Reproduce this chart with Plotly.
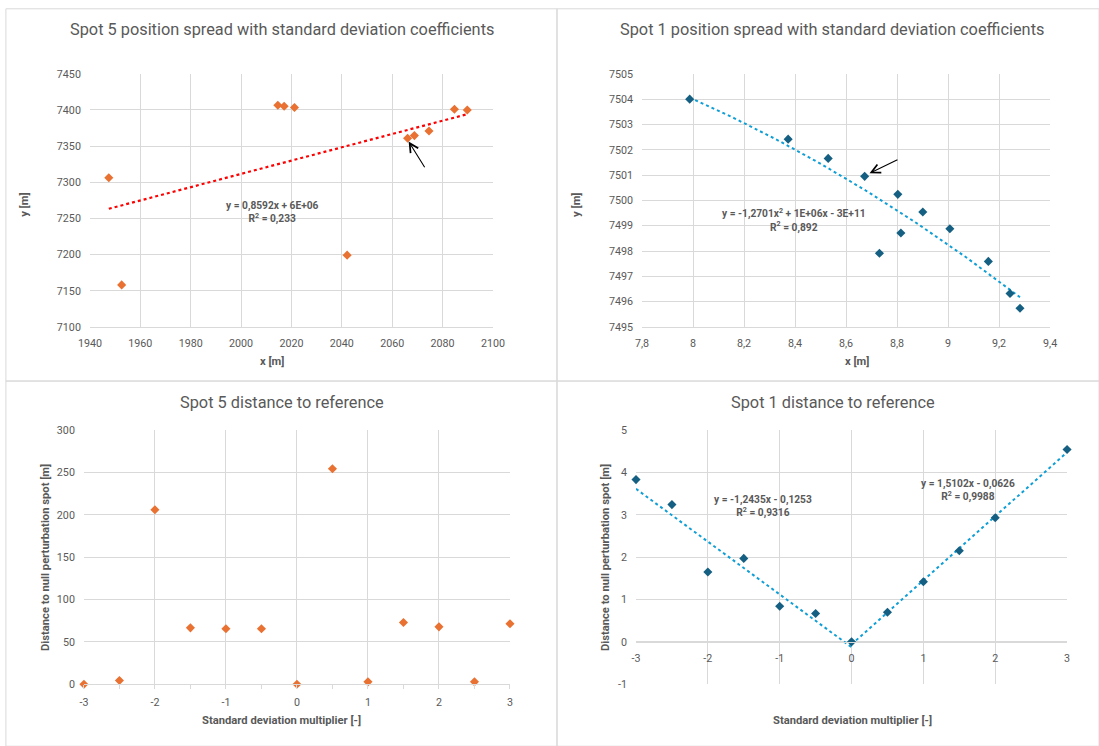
import numpy as np
import plotly.graph_objects as go

W, H = 1099, 746

# ---------------- data ----------------
spot5_x = [1947.5, 1952.6, 2014.6, 2017.1, 2021.2, 2042.1, 2066.1, 2068.8, 2074.6, 2084.7, 2089.8]
spot5_y = [7306.4, 7158.2, 7406.6, 7405.2, 7403.4, 7199.3, 7360.9, 7364.6, 7371.0, 7401.1, 7400.1]

spot1_x = [7.987, 8.373, 8.530, 8.673, 8.731, 8.803, 8.815, 8.901, 9.007, 9.158, 9.243, 9.282]
spot1_y = [7504.0, 7502.42, 7501.66, 7500.95, 7497.91, 7500.24, 7498.71, 7499.54, 7498.88, 7497.59, 7496.32, 7495.74]

std_mult_5 = [-3, -2.5, -2, -1.5, -1, -0.5, 0, 0.5, 1, 1.5, 2, 2.5, 3]
dist_5 = [0, 4.3, 205.9, 66.5, 65.4, 65.4, 0, 254.3, 2.8, 72.8, 67.7, 2.8, 71.3]

std_mult_1 = [-3, -2.5, -2, -1.5, -1, -0.5, 0, 0.5, 1, 1.5, 2, 3]
dist_1 = [3.83, 3.24, 1.65, 1.97, 0.84, 0.67, 0.0, 0.70, 1.42, 2.15, 2.93, 4.54]

titles = ["Spot 5 position spread with standard deviation coefficients",
          "Spot 1 position spread with standard deviation coefficients",
          "Spot 5 distance to reference",
          "Spot 1 distance to reference"]

eq_tl = "y = 0,8592x + 6E+06<br>R<sup>2</sup> = 0,233"
eq_tr = "y = -1,2701x<sup>2</sup> + 1E+06x - 3E+11<br>R<sup>2</sup> = 0,892"
eq_br_left = "y = -1,2435x - 0,1253<br>R<sup>2</sup> = 0,9316"
eq_br_right = "y = 1,5102x - 0,0626<br>R<sup>2</sup> = 0,9988"

tr_xticks = [7.8, 8.0, 8.2, 8.4, 8.6, 8.8, 9.0, 9.2, 9.4]
tr_xlabels = ["7,8", "8", "8,2", "8,4", "8,6", "8,8", "9", "9,2", "9,4"]
mult_ticks = [-3, -2, -1, 0, 1, 2, 3]
mult_labels = ["-3", "-2", "-1", "0", "1", "2", "3"]
br_yticks = [-1, 0, 1, 2, 3, 4, 5]
br_ylabels = ["-1", "0", "1", "2", "3", "4", "5"]

ORANGE = "#E97132"
BLUE = "#156082"
LBLUE = "#0F9ED5"
RED = "#FF0000"
GRID = "#D9D9D9"
TXT = "#595959"
FONT = "Roboto"

# the photographed page comes back slightly shrunk and shifted; compensate
OX, SX = 12.1, 0.978
OY, SY = 6.2, 0.982
FS = 1 / ((SX + SY) / 2)


def px(x):
    return ((x - OX) / SX) / W


def py(y):
    return 1 - ((y - OY) / SY) / H


fig = go.Figure()

# ---------- trend lines (least squares on the read data) ----------
c5 = np.polyfit(spot5_x, spot5_y, 1)
t5x = np.linspace(min(spot5_x), max(spot5_x), 60)
fig.add_trace(go.Scatter(x=t5x, y=np.polyval(c5, t5x), mode="lines",
                         line=dict(color=RED, width=2.2, dash="dot"),
                         xaxis="x", yaxis="y", hoverinfo="skip", cliponaxis=False))

c1 = np.polyfit(spot1_x, spot1_y, 2)
t1x = np.linspace(min(spot1_x), max(spot1_x), 60)
fig.add_trace(go.Scatter(x=t1x, y=np.polyval(c1, t1x), mode="lines",
                         line=dict(color=LBLUE, width=2, dash="dot"),
                         xaxis="x2", yaxis="y2", hoverinfo="skip", cliponaxis=False))

left_x = [m for m in std_mult_1 if m <= 0]
left_y = [d for m, d in zip(std_mult_1, dist_1) if m <= 0]
right_x = [m for m in std_mult_1 if m >= 0]
right_y = [d for m, d in zip(std_mult_1, dist_1) if m >= 0]
cl = np.polyfit(left_x, left_y, 1)
cr = np.polyfit(right_x, right_y, 1)
tlx = np.linspace(min(left_x), max(left_x), 40)
trx = np.linspace(min(right_x), max(right_x), 40)
fig.add_trace(go.Scatter(x=tlx, y=np.polyval(cl, tlx), mode="lines",
                         line=dict(color=LBLUE, width=2, dash="dot"),
                         xaxis="x4", yaxis="y4", hoverinfo="skip", cliponaxis=False))
fig.add_trace(go.Scatter(x=trx, y=np.polyval(cr, trx), mode="lines",
                         line=dict(color=LBLUE, width=2, dash="dot"),
                         xaxis="x4", yaxis="y4", hoverinfo="skip", cliponaxis=False))

# ---------- markers ----------
mk = dict(symbol="diamond", size=7)
fig.add_trace(go.Scatter(x=spot5_x, y=spot5_y, mode="markers",
                         marker=dict(color=ORANGE, **mk), xaxis="x", yaxis="y", cliponaxis=False))
fig.add_trace(go.Scatter(x=spot1_x, y=spot1_y, mode="markers",
                         marker=dict(color=BLUE, **mk), xaxis="x2", yaxis="y2", cliponaxis=False))
fig.add_trace(go.Scatter(x=std_mult_5, y=dist_5, mode="markers",
                         marker=dict(color=ORANGE, **mk), xaxis="x3", yaxis="y3", cliponaxis=False))
fig.add_trace(go.Scatter(x=std_mult_1, y=dist_1, mode="markers",
                         marker=dict(color=BLUE, **mk), xaxis="x4", yaxis="y4", cliponaxis=False))

tickfont = dict(family=FONT, size=10.5 * FS, color=TXT)
common = dict(showgrid=True, gridcolor=GRID, gridwidth=1, zeroline=False,
              tickfont=tickfont, fixedrange=True)

# plot-area domains from the reference (pixels)
dom = {
    "tl": ([90, 493], [74, 327]),
    "tr": ([642, 1050], [74, 327]),
    "bl": ([84, 510], [430, 684]),
    "br": ([636, 1067], [430, 684]),
}


def xd(k):
    a, b = dom[k][0]
    return [px(a), px(b)]


def yd(k):
    a, b = dom[k][1]
    return [py(b), py(a)]


fig.update_layout(
    xaxis=dict(domain=xd("tl"), anchor="y", range=[1940, 2100], dtick=20, tick0=1940,
               ticklabelstandoff=6, showline=True, linecolor=GRID, ticks="", **common),
    yaxis=dict(domain=yd("tl"), anchor="x", range=[7100, 7450], dtick=50, tick0=7100,
               ticklabelstandoff=8, showline=False, ticks="", **common),
    xaxis2=dict(domain=xd("tr"), anchor="y2", range=[7.8, 9.4], tickvals=tr_xticks,
                ticktext=tr_xlabels, ticklabelstandoff=6, showline=True, linecolor=GRID,
                ticks="", **common),
    yaxis2=dict(domain=yd("tr"), anchor="x2", range=[7495, 7505], dtick=1, tick0=7495,
                ticklabelstandoff=8, showline=False, ticks="", **common),
    xaxis3=dict(domain=xd("bl"), anchor="y3", range=[-3, 3], tickvals=mult_ticks,
                ticktext=mult_labels, ticklabelstandoff=4, showline=True, linecolor=GRID,
                ticks="outside", ticklen=4, tickcolor=GRID,
                minor=dict(ticks="outside", ticklen=4, tickcolor=GRID, dtick=0.5, showgrid=False),
                **common),
    yaxis3=dict(domain=yd("bl"), anchor="x3", range=[0, 300], dtick=50, tick0=0,
                ticklabelstandoff=8, showline=False, ticks="", **common),
    xaxis4=dict(domain=xd("br"), anchor="free", position=py(642), range=[-3, 3],
                tickvals=mult_ticks, ticktext=mult_labels, ticklabelstandoff=6,
                showline=True, linecolor=GRID, ticks="", **common),
    yaxis4=dict(domain=yd("br"), anchor="x4", range=[-1, 5], tickvals=br_yticks,
                ticktext=br_ylabels, ticklabelstandoff=8, showline=False, ticks="", **common),
)

ann = []
title_font = dict(family=FONT, size=16 * FS, color=TXT)
for t, (cx, cy) in zip(titles, [(282, 30), (832, 30), (282, 402), (833, 402)]):
    ann.append(dict(text=t, x=px(cx), y=py(cy), xref="paper", yref="paper",
                    showarrow=False, font=title_font, xanchor="center", yanchor="middle"))

axfont = dict(family=FONT, size=11 * FS, color=TXT)
axis_titles = [
    ("x [m]", 272, 361, 0), ("y [m]", 25, 205, -90),
    ("x [m]", 857, 361, 0), ("y [m]", 577, 205, -90),
    ("Standard deviation multiplier [-]", 282, 720, 0),
    ("Distance to null perturbation spot [m]", 45, 557, -90),
    ("Standard deviation multiplier [-]", 852, 720, 0),
    ("Distance to null perturbation spot [m]", 605, 557, -90),
]
for t, cx, cy, ang in axis_titles:
    ann.append(dict(text="<b>" + t + "</b>", x=px(cx), y=py(cy), xref="paper", yref="paper",
                    showarrow=False, font=axfont, textangle=ang, xanchor="center", yanchor="middle"))

eqfont = dict(family=FONT, size=10 * FS, color=TXT)
for t, xr, yr, x, y in [
    (eq_tl, "x", "y", 2012.3, 7257.7),
    (eq_tr, "x2", "y2", 8.396, 7499.23),
    (eq_br_left, "x4", "y4", -1.232, 3.205),
    (eq_br_right, "x4", "y4", 1.622, 3.583),
]:
    ann.append(dict(text="<b>" + t + "</b>", x=x, y=y, xref=xr, yref=yr, showarrow=False,
                    font=eqfont, align="center", xanchor="center", yanchor="middle"))

# arrows pointing at the null-perturbation spots
ann.append(dict(x=spot5_x[6], y=spot5_y[6] - 2, xref="x", yref="y", text="", showarrow=True,
                ax=18, ay=29, arrowhead=5, arrowsize=1.6, arrowwidth=1.1, arrowcolor="black",
                standoff=2))
ann.append(dict(x=spot1_x[3] + 0.005, y=spot1_y[3] + 0.05, xref="x2", yref="y2", text="",
                showarrow=True, ax=33, ay=-16, arrowhead=5, arrowsize=1.6, arrowwidth=1.1,
                arrowcolor="black", standoff=4))

# chart-frame borders
shapes = []
for x0, y0, x1, y1 in [(6, 9, 557, 381), (557, 9, 1099, 381), (6, 381, 557, 746), (557, 381, 1099, 746)]:
    shapes.append(dict(type="rect", xref="paper", yref="paper", x0=px(x0), x1=px(x1),
                       y0=py(y1), y1=py(y0), line=dict(color=GRID, width=1)))

fig.update_layout(
    width=W, height=H, margin=dict(l=0, r=0, t=0, b=0),
    paper_bgcolor="white", plot_bgcolor="white",
    showlegend=False, annotations=ann, shapes=shapes,
    separators=", ", font=dict(family=FONT, color=TXT),
)

fig.write_html("out.html", config={"displayModeBar": False},
               post_script="document.body.style.margin='0';document.body.style.overflow='hidden';")
